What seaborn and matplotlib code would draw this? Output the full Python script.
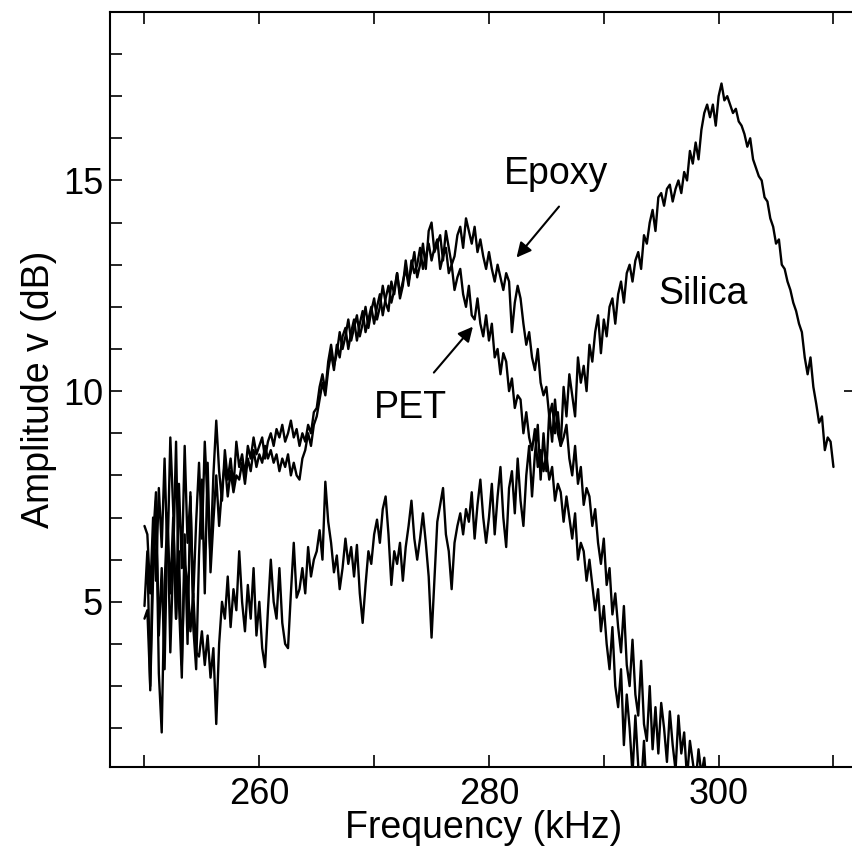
import matplotlib
matplotlib.use("Agg")
import matplotlib.pyplot as plt
import numpy as np
import pandas as pd
import seaborn as sns

# sampling grid (kHz), 0.25 kHz step
f_start = 250.0
f_step = 0.25

silica = [
    4.6, 4.8, 3.0, 6.5, 7.6, 4.2, 5.8, 3.4, 6.9, 5.2, 7.0, 4.6, 6.2, 3.5, 5.9, 5.5, 4.3, 5.2, 3.8, 3.7,
    4.3, 3.5, 4.2, 3.2, 3.9, 2.1, 4.0, 5.0, 4.6, 5.6, 4.4, 5.3, 4.8, 6.2, 5.0, 4.3, 5.4, 4.6, 5.8, 4.2,
    5.0, 3.9, 3.45, 4.8, 6.0, 5.0, 4.6, 5.8, 4.5, 4.0, 3.9, 5.2, 6.4, 5.1, 5.3, 5.8, 5.2, 6.3, 5.6, 6.0,
    6.2, 6.7, 6.0, 7.85, 6.9, 6.4, 5.7, 6.1, 5.3, 5.8, 6.5, 5.9, 6.3, 5.6, 6.35, 5.2, 4.5, 5.4, 6.2, 5.9,
    6.6, 6.95, 6.4, 7.2, 7.5, 6.6, 5.4, 6.2, 5.9, 6.4, 5.5, 6.3, 6.8, 7.4, 6.5, 6.0, 6.5, 7.1, 6.4, 5.6,
    4.15, 5.5, 6.9, 7.3, 7.7, 6.6, 6.2, 5.3, 6.4, 6.8, 7.1, 6.6, 7.2, 6.9, 7.6, 6.5, 7.3, 7.9, 7.0, 6.4,
    7.0, 7.8, 6.6, 7.5, 8.2, 7.0, 6.3, 7.7, 8.1, 7.1, 8.4, 7.4, 6.8, 8.0, 8.7, 7.5, 8.5, 9.2, 7.9, 9.0,
    8.1, 9.5, 8.8, 9.8, 9.0, 8.7, 10.1, 9.4, 10.4, 9.9, 9.4, 10.8, 10.2, 10.6, 10.0, 11.1, 10.7, 11.4, 11.8, 10.9,
    11.7, 11.3, 12.0, 12.2, 11.6, 12.3, 12.6, 12.1, 12.8, 13.0, 12.6, 13.1, 13.3, 12.9, 13.7, 13.5, 14.0, 14.3, 13.8, 14.6,
    14.7, 14.4, 14.8, 14.9, 14.5, 14.8, 15.0, 14.7, 15.2, 15.0, 15.7, 15.4, 15.9, 15.5, 16.2, 16.6, 16.8, 16.5, 16.8, 16.3,
    17.0, 17.3, 16.9, 17.0, 16.8, 16.6, 16.7, 16.4, 16.3, 16.1, 15.8, 16.0, 15.5, 15.3, 15.1, 15.0, 14.6, 14.5, 14.1, 13.9,
    13.5, 13.6, 13.0, 12.9, 12.6, 12.4, 12.1, 11.9, 11.6, 11.4, 10.8, 10.4, 10.8, 10.1, 9.7, 9.25, 9.4, 8.6, 8.9, 8.8,
    8.2,
]

epoxy = [
    6.8, 6.6, 5.2, 7.0, 5.5, 7.7, 6.3, 8.4, 6.0, 8.9, 7.2, 4.6, 7.8, 5.8, 8.7, 6.4, 7.5, 5.1, 6.9, 8.3,
    6.5, 8.8, 7.3, 6.1, 8.0, 9.3, 8.1, 7.4, 8.6, 7.9, 8.4, 7.7, 8.8, 8.2, 8.5, 8.0, 8.7, 8.4, 8.9, 8.5,
    8.7, 8.9, 8.4, 8.8, 9.0, 8.7, 9.1, 8.9, 9.2, 8.8, 9.0, 9.3, 8.9, 9.1, 8.7, 9.0, 8.8, 9.2, 9.0, 9.5,
    9.6, 10.1, 10.4, 10.0, 10.7, 11.1, 10.6, 10.9, 11.4, 11.0, 11.3, 11.7, 11.2, 11.5, 11.8, 11.3, 11.6, 12.0, 11.5, 11.9,
    12.2, 11.7, 12.0, 12.5, 12.1, 11.9, 12.6, 12.3, 12.8, 12.2, 12.5, 13.1, 12.6, 12.9, 13.3, 12.7, 13.0, 13.5, 12.9, 13.8,
    14.0, 13.3, 13.5, 13.7, 13.1, 13.8, 13.4, 13.0, 13.2, 13.7, 13.9, 13.4, 14.1, 13.8, 13.5, 13.9, 13.3, 13.6, 13.2, 12.9,
    13.3, 12.9, 12.6, 13.0, 12.7, 12.4, 12.8, 12.6, 11.4, 12.1, 12.5, 12.2, 11.6, 11.1, 11.4, 10.8, 10.5, 11.0, 10.2, 9.9,
    10.1, 9.4, 9.7, 9.0, 9.5, 8.7, 8.9, 9.2, 8.4, 8.0, 8.7, 7.8, 8.2, 7.3, 7.7, 7.5, 6.8, 7.2, 6.4, 5.9,
    6.5, 5.4, 5.8, 4.7, 5.2, 4.4, 3.8, 4.9, 3.5, 3.0, 4.1, 2.8, 2.3, 3.6, 2.1, 1.7, 3.0, 1.5, 2.5, 1.4,
    2.6, 2.0, 1.2, 2.4, 1.6, 1.0, 2.3, 1.4, 1.9, 0.8, 1.7, 1.2, 0.7, 1.5, 0.9, 1.3, 0.5,
]

pet = [
    4.9, 6.2, 2.9, 5.6, 7.4, 3.3, 1.9, 5.4, 7.1, 3.8, 6.0, 8.8, 5.0, 3.2, 6.6, 4.0, 7.6, 4.4, 3.4, 6.1,
    7.9, 5.2, 8.3, 5.7, 6.9, 8.0, 6.8, 7.7, 8.3, 7.5, 8.1, 7.6, 8.0, 7.9, 8.3, 7.8, 8.4, 8.1, 8.6, 8.2,
    8.5, 8.3, 8.7, 8.4, 8.6, 8.3, 8.5, 8.1, 8.4, 8.2, 8.5, 8.0, 8.3, 8.0, 7.9, 8.4, 8.6, 9.0, 8.7, 9.2,
    9.4, 9.8, 10.2, 9.9, 10.5, 10.9, 10.5, 11.1, 10.8, 11.3, 11.5, 11.0, 11.4, 11.7, 11.2, 11.6, 11.9, 11.4, 11.7, 12.0,
    11.6, 12.0, 12.3, 11.8, 12.2, 12.5, 12.1, 12.4, 12.8, 12.3, 12.6, 12.9, 12.5, 13.1, 12.8, 13.0, 13.4, 12.9, 13.2, 13.5,
    13.1, 13.4, 13.6, 12.9, 13.2, 13.4, 12.8, 13.0, 12.4, 12.7, 12.9, 12.3, 12.0, 12.5, 11.8, 11.7, 12.2, 11.6, 11.3, 11.8,
    11.2, 11.6, 10.8, 11.0, 10.4, 10.9, 10.7, 10.0, 10.3, 9.6, 9.9, 9.8, 9.0, 9.5, 8.9, 8.6, 9.1, 8.2, 8.6, 8.1,
    8.5, 7.9, 8.2, 7.4, 7.8, 7.6, 6.9, 7.5, 7.0, 6.5, 7.1, 6.0, 6.4, 6.2, 5.5, 6.0, 5.4, 4.8, 5.3, 4.3,
    4.9, 4.0, 3.4, 4.4, 3.0, 2.5, 3.4, 1.6, 2.8, 2.0, 0.9, 2.3, 1.1, 0.6, 1.7, 0.4, 0.8,
]

x_ticks = [250, 260, 270, 280, 290, 300, 310]
x_labels = ["", "260", "", "280", "", "300", ""]
y_major = [5, 10, 15]


def freq_axis(values):
    return f_start + f_step * np.arange(len(values))


frames = []
for name, vals in [("Silica", silica), ("Epoxy", epoxy), ("PET", pet)]:
    frames.append(pd.DataFrame({"freq": freq_axis(vals), "amp": vals, "sample": name}))
df = pd.concat(frames, ignore_index=True)

sns.set_style("ticks")
plt.rcParams['font.family'] = ['Liberation Sans', 'DejaVu Sans']
plt.rcParams.update({
    'text.color': 'black', 'axes.labelcolor': 'black', 'axes.edgecolor': 'black',
    'xtick.color': 'black', 'ytick.color': 'black',
})

fig = plt.figure(figsize=(8.53, 8.49), dpi=100)
ax = fig.add_axes([0.129, 0.0966, 0.875, 0.8894])

for name in ["Silica", "Epoxy", "PET"]:
    sns.lineplot(data=df[df["sample"] == name], x="freq", y="amp", color="black",
                 linewidth=1.7, ax=ax, sort=False, estimator=None)

ax.set_xlim(247.0, 312.0)
ax.set_ylim(1.08, 19.0)

ax.set_xticks(x_ticks)
ax.set_xticklabels(x_labels)
ax.set_yticks(y_major)
ax.set_yticks(np.arange(2, 19), minor=True)
ax.tick_params(axis='both', which='both', direction='in', length=8.5, width=1.2,
               labelsize=26, pad=5)
ax.tick_params(axis='x', which='both', top=True, pad=7)
ax.tick_params(axis='y', which='both', right=False)

# single tick on right edge
sec = ax.secondary_yaxis('right')
sec.set_yticks([10])
sec.set_yticklabels([""])
sec.tick_params(direction='in', length=8.5, width=1.2)

for sp in ax.spines.values():
    sp.set_linewidth(1.5)
    sp.set_visible(True)

ax.set_xlabel("Frequency (kHz)", fontsize=27, labelpad=-1)
ax.set_ylabel("Amplitude v (dB)", fontsize=27, labelpad=4)

txt = dict(fontsize=27, ha='center', va='center')
ax.text(285.8, 15.15, "Epoxy", **txt)
ax.text(273.2, 9.6, "PET", **txt)
ax.text(298.6, 12.3, "Silica", **txt)

arrow = dict(arrowstyle='-|>', color='black', lw=1.5, mutation_scale=22, shrinkA=0, shrinkB=0)
ax.annotate("", xy=(282.4, 13.17), xytext=(286.1, 14.38), arrowprops=arrow)
ax.annotate("", xy=(278.6, 11.53), xytext=(275.2, 10.44), arrowprops=arrow)

fig.savefig("out.png", dpi=100)
